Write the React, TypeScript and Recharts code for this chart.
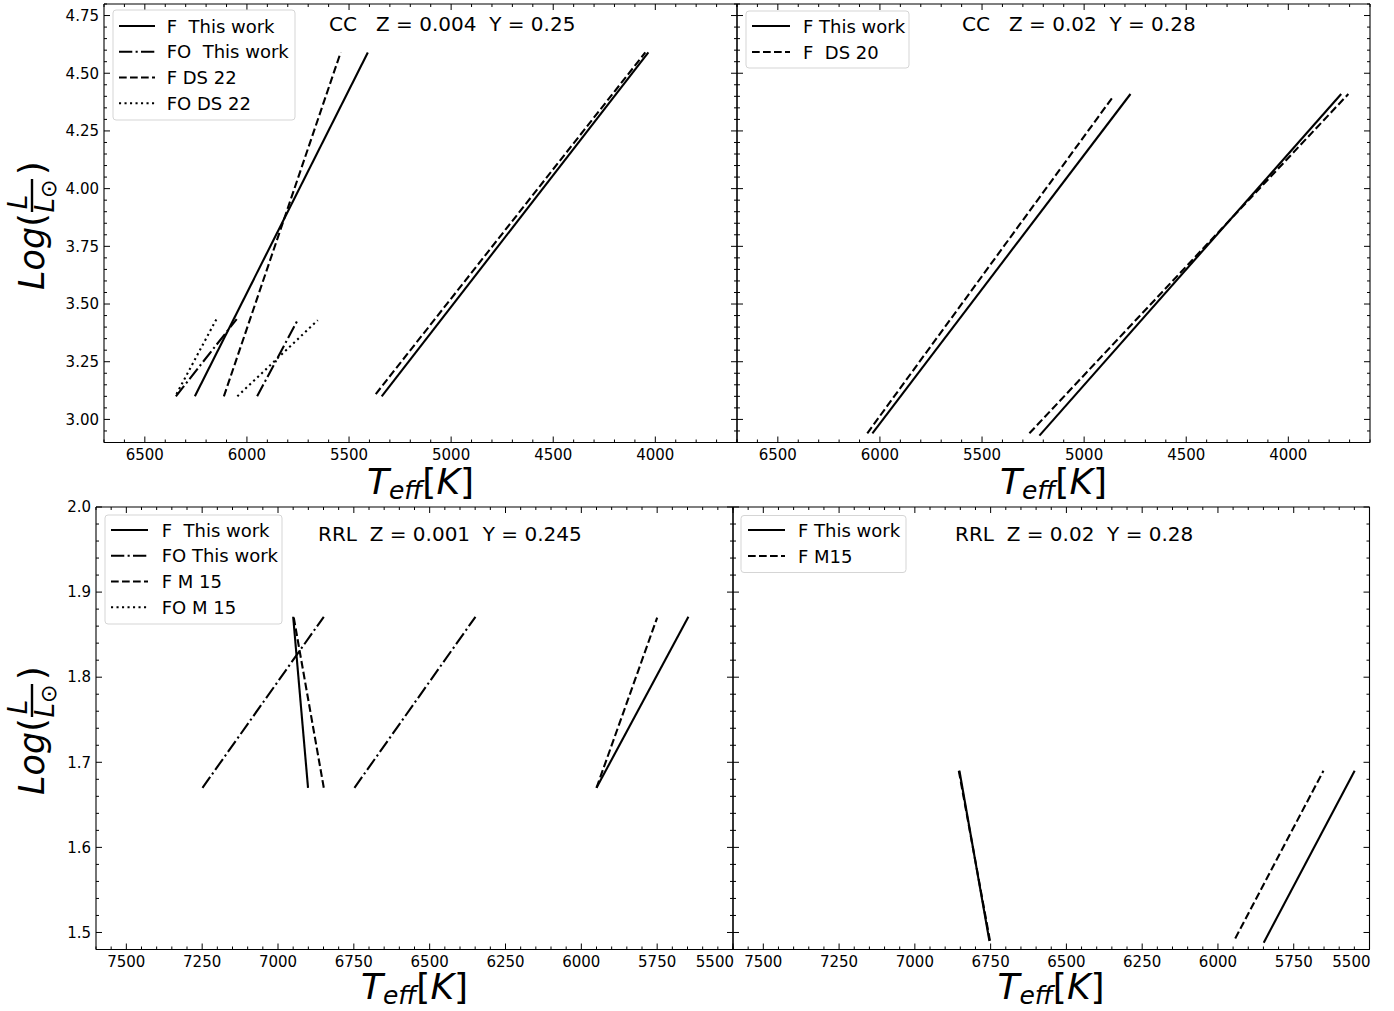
import React from 'react';
import { LineChart, Line, XAxis, YAxis } from 'recharts';

const W = 1394;
const H = 1011;
const FONT = '"DejaVu Sans", Verdana, sans-serif';

// ---------- axis tick labels / domains ----------
const ccTempMajor = [6500, 6000, 5500, 5000, 4500, 4000];
const ccLumMajor = [3.0, 3.25, 3.5, 3.75, 4.0, 4.25, 4.5, 4.75];
const rrlTempMajor = [7500, 7250, 7000, 6750, 6500, 6250, 6000, 5750, 5500];
const rrlLumMajor = [1.5, 1.6, 1.7, 1.8, 1.9, 2.0];
const ccTempDomain: [number, number] = [3600, 6700];
const ccLumDomain: [number, number] = [2.9, 4.8];
const rrlTempDomain: [number, number] = [5500, 7600];
const rrlLumDomain: [number, number] = [1.48, 2.0];

// ---------- data: [Teff, logL] segments ----------
type Seg = [number, number][];
// CC  Z = 0.004  Y = 0.25
const ccLowF_this: Seg[] = [[[6255, 3.10], [5408, 4.59]], [[5340, 3.10], [4034, 4.59]]];
const ccLowFO_this: Seg[] = [[[6348, 3.10], [6050, 3.435]], [[5950, 3.10], [5749, 3.435]]];
const ccLowF_DS22: Seg[] = [[[6113, 3.10], [5541, 4.59]], [[5369, 3.11], [4049, 4.59]]];
const ccLowFO_DS22: Seg[] = [[[6345, 3.11], [6149, 3.435]], [[6047, 3.10], [5653, 3.43]]];
// CC  Z = 0.02  Y = 0.28
const ccSolF_this: Seg[] = [[[6037, 2.94], [4773, 4.41]], [[5219, 2.93], [3741, 4.41]]];
const ccSolF_DS20: Seg[] = [[[6062, 2.94], [4857, 4.40]], [[5268, 2.94], [3706, 4.41]]];
// RRL  Z = 0.001  Y = 0.245
const rrlLowF_this: Seg[] = [[[6950, 1.871], [6901, 1.67]], [[5950, 1.67], [5647, 1.871]]];
const rrlLowFO_this: Seg[] = [[[7249, 1.67], [6849, 1.871]], [[6748, 1.67], [6349, 1.871]]];
const rrlLowF_M15: Seg[] = [[[6948, 1.87], [6849, 1.67]], [[5950, 1.67], [5750, 1.87]]];
const rrlLowFO_M15: Seg[] = [];
// RRL  Z = 0.02  Y = 0.28
const rrlSolF_this: Seg[] = [[[6853, 1.69], [6754, 1.49]], [[5849, 1.488], [5549, 1.69]]];
const rrlSolF_M15: Seg[] = [[[6855, 1.69], [6752, 1.49]], [[5943, 1.493], [5652, 1.69]]];

const DASH: Record<string, string | undefined> = {
  solid: undefined,
  dashed: '7.7 3.3',
  dashdot: '13.3 3.3 2.1 3.3',
  dotted: '2.1 3.4',
};

function minorTicks(domain: [number, number], step: number) {
  const out: number[] = [];
  const i0 = Math.ceil(domain[0] / step - 1e-9);
  const i1 = Math.floor(domain[1] / step + 1e-9);
  for (let i = i0; i <= i1; i++) out.push(Math.round(i * step * 1000) / 1000);
  return out;
}

type Panel = {
  key: string;
  box: { left: number; right: number; top: number; bottom: number };
  xDomain: [number, number];
  yDomain: [number, number];
  xMajor: number[];
  yMajor: number[];
  xStep: number;
  yStep: number;
  yFmt: (v: number) => string;
  yLabels: boolean;
  series: { segs: Seg[]; style: string }[];
};

// box = plot-area edges in page pixels
const panels: Panel[] = [
  {
    key: 'tl',
    box: { left: 104, right: 737, top: 4, bottom: 442.5 },
    xDomain: ccTempDomain, yDomain: ccLumDomain, xMajor: ccTempMajor, yMajor: ccLumMajor,
    xStep: 100, yStep: 0.05, yFmt: (v) => v.toFixed(2), yLabels: true,
    series: [
      { segs: ccLowFO_DS22, style: 'dotted' },
      { segs: ccLowF_DS22, style: 'dashed' },
      { segs: ccLowFO_this, style: 'dashdot' },
      { segs: ccLowF_this, style: 'solid' },
    ],
  },
  {
    key: 'tr',
    box: { left: 737, right: 1370, top: 4, bottom: 442.5 },
    xDomain: ccTempDomain, yDomain: ccLumDomain, xMajor: ccTempMajor, yMajor: ccLumMajor,
    xStep: 100, yStep: 0.05, yFmt: (v) => v.toFixed(2), yLabels: false,
    series: [
      { segs: ccSolF_DS20, style: 'dashed' },
      { segs: ccSolF_this, style: 'solid' },
    ],
  },
  {
    key: 'bl',
    box: { left: 96, right: 733, top: 507, bottom: 949.5 },
    xDomain: rrlTempDomain, yDomain: rrlLumDomain, xMajor: rrlTempMajor, yMajor: rrlLumMajor,
    xStep: 50, yStep: 0.02, yFmt: (v) => v.toFixed(1), yLabels: true,
    series: [
      { segs: rrlLowFO_M15, style: 'dotted' },
      { segs: rrlLowF_M15, style: 'dashed' },
      { segs: rrlLowFO_this, style: 'dashdot' },
      { segs: rrlLowF_this, style: 'solid' },
    ],
  },
  {
    key: 'br',
    box: { left: 733, right: 1369.5, top: 507, bottom: 949.5 },
    xDomain: rrlTempDomain, yDomain: rrlLumDomain, xMajor: rrlTempMajor, yMajor: rrlLumMajor,
    xStep: 50, yStep: 0.02, yFmt: (v) => v.toFixed(1), yLabels: false,
    series: [
      { segs: rrlSolF_M15, style: 'dashed' },
      { segs: rrlSolF_this, style: 'solid' },
    ],
  },
];

const isMajor = (v: number, majors: number[]) => majors.some((m) => Math.abs(m - v) < 1e-6);
const axisLine = { stroke: '#000', strokeWidth: 1.1 };
const AX = 1; // axis thickness (width/height) reserved by each axis

function renderTick(props: any, side: string, p: Panel) {
  const { x, y, payload } = props;
  const v = payload.value as number;
  const majors = side === 'bottom' || side === 'top' ? p.xMajor : p.yMajor;
  const maj = isMajor(v, majors);
  const len = maj ? 6 : 3;
  let line;
  let label = null;
  if (side === 'bottom') {
    line = <line x1={x} y1={y} x2={x} y2={y - len} stroke="#000" strokeWidth={1} />;
    if (maj) {
      const atEnd = Math.abs(v - p.xDomain[0]) < 1e-6;
      label = (
        <text x={atEnd ? x + 1 : x} y={y + 17} textAnchor={atEnd ? 'end' : 'middle'} fontSize={15} fontFamily={FONT} fill="#000">
          {String(v)}
        </text>
      );
    }
  } else if (side === 'top') {
    line = <line x1={x} y1={y} x2={x} y2={y + len} stroke="#000" strokeWidth={1} />;
  } else if (side === 'left') {
    line = <line x1={x} y1={y} x2={x + len} y2={y} stroke="#000" strokeWidth={1} />;
    if (maj && p.yLabels) {
      label = (
        <text x={x - 5} y={y + 5.3} textAnchor="end" fontSize={15} fontFamily={FONT} fill="#000">
          {p.yFmt(v)}
        </text>
      );
    }
  } else {
    line = <line x1={x} y1={y} x2={x - len} y2={y} stroke="#000" strokeWidth={1} />;
  }
  return (
    <g>
      {line}
      {label}
    </g>
  );
}

function PanelChart({ p }: { p: Panel }) {
  const xTicks = minorTicks(p.xDomain, p.xStep);
  const yTicks = minorTicks(p.yDomain, p.yStep);
  const margin = {
    left: p.box.left - AX,
    right: W - p.box.right - AX,
    top: p.box.top - AX,
    bottom: H - p.box.bottom - AX,
  };
  const common = { type: 'number' as const, allowDataOverflow: true, interval: 0 as const, tickSize: 0, tickMargin: 0, axisLine, tickLine: false };
  return (
    <div style={{ position: 'absolute', left: 0, top: 0, width: W, height: H }}>
      <LineChart width={W} height={H} margin={margin}>
        <XAxis {...common} xAxisId="b" dataKey="t" orientation="bottom" domain={p.xDomain} reversed ticks={xTicks} height={AX}
          tick={(props: any) => renderTick(props, 'bottom', p)} />
        <XAxis {...common} xAxisId="t" dataKey="t" orientation="top" domain={p.xDomain} reversed ticks={xTicks} height={AX}
          tick={(props: any) => renderTick(props, 'top', p)} />
        <YAxis {...common} yAxisId="l" dataKey="l" orientation="left" domain={p.yDomain} ticks={yTicks} width={AX}
          tick={(props: any) => renderTick(props, 'left', p)} />
        <YAxis {...common} yAxisId="r" dataKey="l" orientation="right" domain={p.yDomain} ticks={yTicks} width={AX}
          tick={(props: any) => renderTick(props, 'right', p)} />
        {p.series.flatMap((s, si) =>
          s.segs.map((seg, gi) => (
            <Line
              key={`${p.key}-${si}-${gi}`}
              xAxisId="b"
              yAxisId="l"
              data={seg.map(([t, l]) => ({ t, l }))}
              dataKey="l"
              stroke="#000"
              strokeWidth={2.1}
              strokeDasharray={DASH[s.style]}
              dot={false}
              activeDot={false}
              isAnimationActive={false}
            />
          ))
        )}
      </LineChart>
    </div>
  );
}

// ---------- overlay: legends, titles, axis labels ----------
type LegendSpec = {
  box: [number, number, number, number];
  rows: number[];
  hx: [number, number];
  tx: number;
  items: { label: string; style: string }[];
};

const legends: LegendSpec[] = [
  {
    box: [113, 10, 182, 110], rows: [26, 51.7, 77.5, 103.2], hx: [119, 155], tx: 166.7,
    items: [
      { label: 'F  This work', style: 'solid' },
      { label: 'FO  This work', style: 'dashdot' },
      { label: 'F DS 22', style: 'dashed' },
      { label: 'FO DS 22', style: 'dotted' },
    ],
  },
  {
    box: [746, 11, 163, 57], rows: [26, 52], hx: [752, 790], tx: 803,
    items: [
      { label: 'F This work', style: 'solid' },
      { label: 'F  DS 20', style: 'dashed' },
    ],
  },
  {
    box: [105, 515, 177, 109], rows: [530, 555.7, 581.5, 607.3], hx: [111, 148], tx: 161.7,
    items: [
      { label: 'F  This work', style: 'solid' },
      { label: 'FO This work', style: 'dashdot' },
      { label: 'F M 15', style: 'dashed' },
      { label: 'FO M 15', style: 'dotted' },
    ],
  },
  {
    box: [741, 515.5, 165, 57], rows: [530, 556], hx: [748, 785], tx: 798,
    items: [
      { label: 'F This work', style: 'solid' },
      { label: 'F M15', style: 'dashed' },
    ],
  },
];

const titles = [
  { text: 'CC   Z = 0.004  Y = 0.25', x: 329, y: 31 },
  { text: 'CC   Z = 0.02  Y = 0.28', x: 962, y: 31 },
  { text: 'RRL  Z = 0.001  Y = 0.245', x: 318, y: 540.5 },
  { text: 'RRL  Z = 0.02  Y = 0.28', x: 955, y: 540.5 },
];

const xLabels = [
  { cx: 420.5, y: 494 },
  { cx: 1053.5, y: 494 },
  { cx: 414.5, y: 999 },
  { cx: 1051, y: 999 },
];
const yLabels = [
  { cx: 32, cy: 222 },
  { cx: 32, cy: 727 },
];

function XLabel({ cx, y }: { cx: number; y: number }) {
  return (
    <text x={cx} y={y} textAnchor="middle" fontFamily={FONT} fontSize={36} fill="#000">
      <tspan fontStyle="italic">T</tspan>
      <tspan fontStyle="italic" fontSize={25} dy={5}>eff</tspan>
      <tspan dy={-5}>[</tspan>
      <tspan fontStyle="italic">K</tspan>
      <tspan>]</tspan>
    </text>
  );
}

function YLabel({ cx, cy }: { cx: number; cy: number }) {
  return (
    <g transform={`translate(${cx} ${cy}) rotate(-90)`} fontFamily={FONT} fill="#000">
      <text x={-68} y={12} fontSize={35}>
        <tspan fontStyle="italic">Log</tspan>
        <tspan>(</tspan>
      </text>
      <line x1={10} x2={43} y1={0} y2={0} stroke="#000" strokeWidth={2.4} />
      <text x={20} y={-5} textAnchor="middle" fontSize={26} fontStyle="italic">L</text>
      <text x={26} y={22} textAnchor="middle" fontSize={26}>
        <tspan fontStyle="italic">L</tspan>
        <tspan fontSize={22} dy={2}>⊙</tspan>
      </text>
      <text x={47} y={12} fontSize={35}>)</text>
    </g>
  );
}

function Overlay() {
  return (
    <svg width={W} height={H} style={{ position: 'absolute', left: 0, top: 0, pointerEvents: 'none' }}>
      {legends.map((lg, i) => (
        <g key={`lg${i}`}>
          <rect x={lg.box[0]} y={lg.box[1]} width={lg.box[2]} height={lg.box[3]} rx={3} ry={3}
            fill="#fff" fillOpacity={0.8} stroke="#d5d5d5" strokeWidth={1} />
          {lg.items.map((it, j) => (
            <g key={j}>
              <line x1={lg.hx[0]} x2={lg.hx[1]} y1={lg.rows[j]} y2={lg.rows[j]} stroke="#000" strokeWidth={2.1}
                strokeDasharray={DASH[it.style]} />
              <text x={lg.tx} y={lg.rows[j] + 6.5} fontSize={18} fontFamily={FONT} fill="#000" style={{ whiteSpace: 'pre' }}>
                {it.label}
              </text>
            </g>
          ))}
        </g>
      ))}
      {titles.map((t, i) => (
        <text key={`t${i}`} x={t.x} y={t.y} fontSize={20} fontFamily={FONT} fill="#000" style={{ whiteSpace: 'pre' }}>
          {t.text}
        </text>
      ))}
      {xLabels.map((l, i) => (
        <XLabel key={`xl${i}`} cx={l.cx} y={l.y} />
      ))}
      {yLabels.map((l, i) => (
        <YLabel key={`yl${i}`} cx={l.cx} cy={l.cy} />
      ))}
    </svg>
  );
}

export default function App() {
  return (
    <div style={{ position: 'absolute', left: 0, top: 0, width: W, height: H, background: '#fff', overflow: 'hidden' }}>
      {panels.map((p) => (
        <PanelChart key={p.key} p={p} />
      ))}
      <Overlay />
    </div>
  );
}
